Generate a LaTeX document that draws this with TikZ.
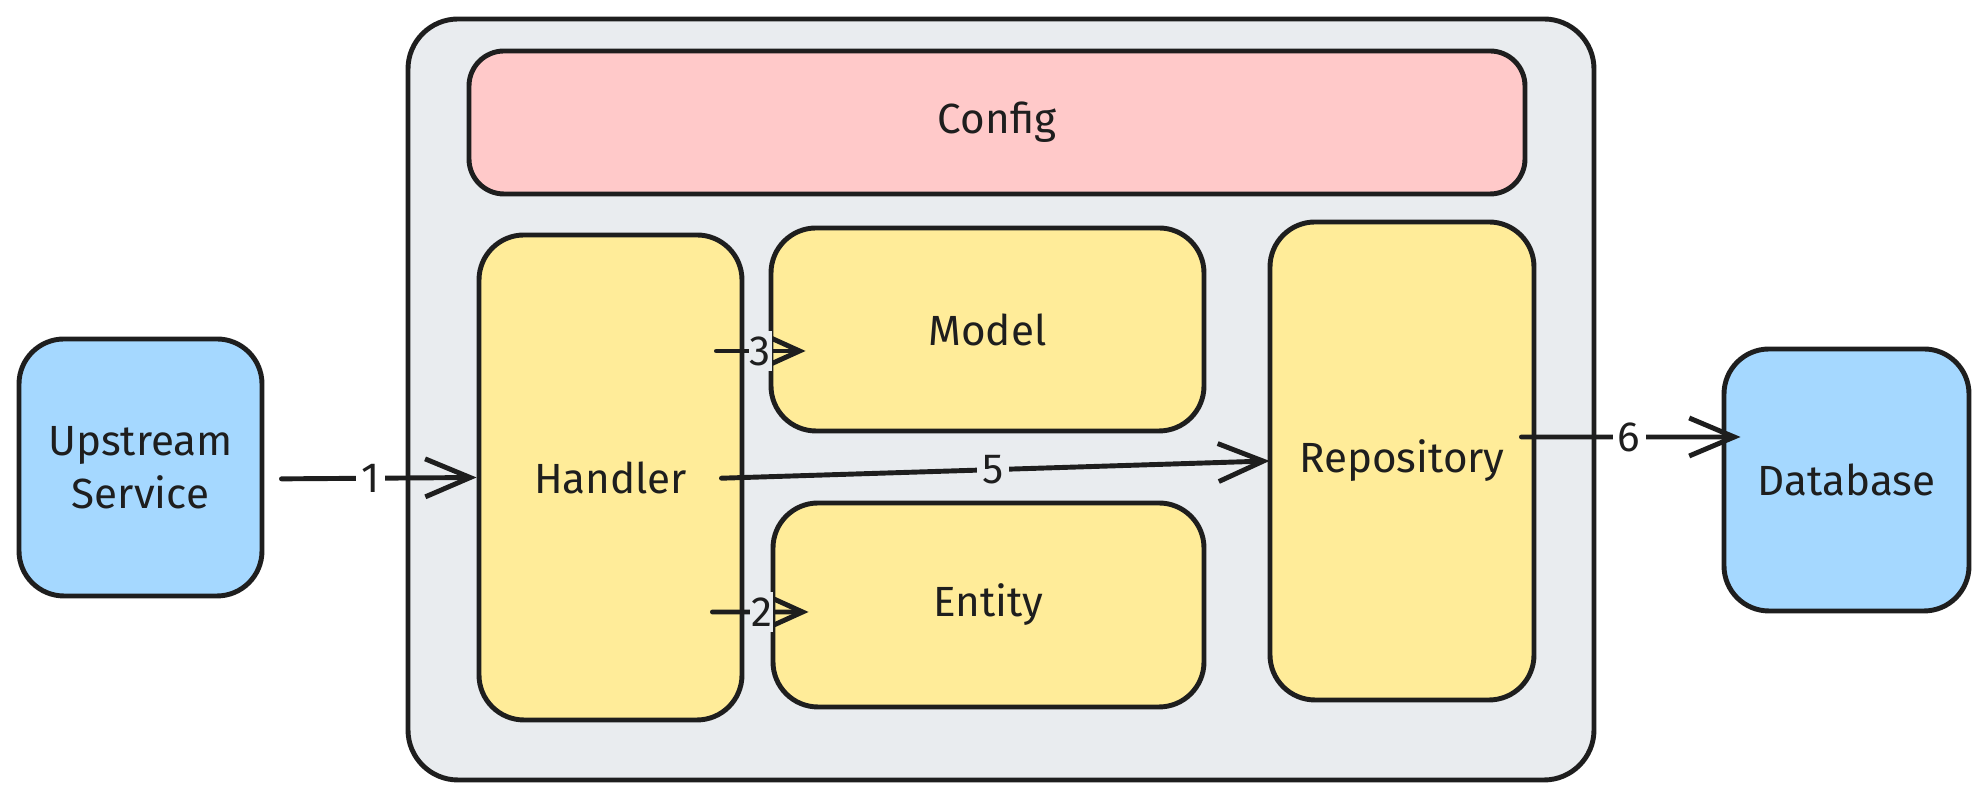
\documentclass[tikz,border=0pt]{standalone}
\usepackage{fontspec}
\setmainfont{Fira Sans}
\usetikzlibrary{arrows.meta}

\definecolor{inkc}{HTML}{1E1E1E}
\definecolor{skyc}{HTML}{A5D8FF}
\definecolor{sandc}{HTML}{FFEC99}
\definecolor{rosec}{HTML}{FFC9C9}
\definecolor{mistc}{HTML}{E9ECEF}

\tikzset{
  box/.style={draw=inkc, line width=1.4pt, rounded corners=0.45cm, text=inkc,
    align=center, inner sep=0pt, font=\fontsize{12}{15}\selectfont},
  ext/.style={box, fill=skyc},
  part/.style={box, fill=sandc},
  flow/.style={draw=inkc, line width=1.4pt, line cap=round,
    -{Straight Barb[length=4.5mm,width=3.8mm]}},
  smallflow/.style={flow, -{Straight Barb[length=3.2mm,width=2.9mm]}},
  num/.style={fill=#1, text=inkc, inner sep=1.5pt, font=\fontsize{12}{14}\selectfont},
  num/.default=white,
}

\begin{document}
\begin{tikzpicture}
        \useasboundingbox (0,0) rectangle (19.88,-8.01);

        % container
        \node[box, fill=mistc, rounded corners=0.5cm, minimum width=11.86cm, minimum height=7.61cm] (service) at (10.01, -3.995) {};
        \node[box, fill=rosec, rounded corners=0.35cm, minimum width=10.56cm, minimum height=1.43cm] (config) at (9.97, -1.225) {Config};

        \node[part, minimum width=2.63cm, minimum height=4.85cm] (handler) at (6.105, -4.775) {Handler};
        \node[part, minimum width=4.33cm, minimum height=2.03cm] (model) at (9.875, -3.295) {Model};
        \node[part, minimum width=4.31cm, minimum height=2.04cm] (entity) at (9.885, -6.05) {Entity};
        \node[part, minimum width=2.64cm, minimum height=4.78cm] (repo) at (14.02, -4.61) {Repository};

        % outside
        \node[ext, minimum width=2.43cm, minimum height=2.57cm] (upstream) at (1.405, -4.675) {Upstream\\Service};
        \node[ext, minimum width=2.45cm, minimum height=2.62cm] (db) at (18.465, -4.80) {Database};

        % flows
        \draw[flow, shorten <=0.17cm] ([yshift=-0.115cm]upstream.east) -- node[num]{1} (handler.west);
        \draw[smallflow, shorten <=-0.32cm, shorten >=-0.38cm] ([yshift=-1.345cm]handler.east) -- node[num=mistc, inner xsep=0.3pt, xshift=0.04cm]{2} ([yshift=-0.07cm]entity.west);
        \draw[smallflow, shorten <=-0.28cm, shorten >=-0.37cm] ([yshift=1.265cm]handler.east) -- node[num=mistc, inner xsep=0.3pt, xshift=0.04cm]{3} ([yshift=-0.215cm]model.west);
        \draw[flow, shorten <=-0.23cm, shorten >=-0.02cm] (handler.east) -- node[num=mistc, pos=0.475]{5} (repo.west);
        \draw[flow, shorten <=-0.15cm, shorten >=-0.19cm] ([yshift=0.24cm]repo.east) -- node[num]{6} ([yshift=0.43cm]db.west);

\end{tikzpicture}
\end{document}
